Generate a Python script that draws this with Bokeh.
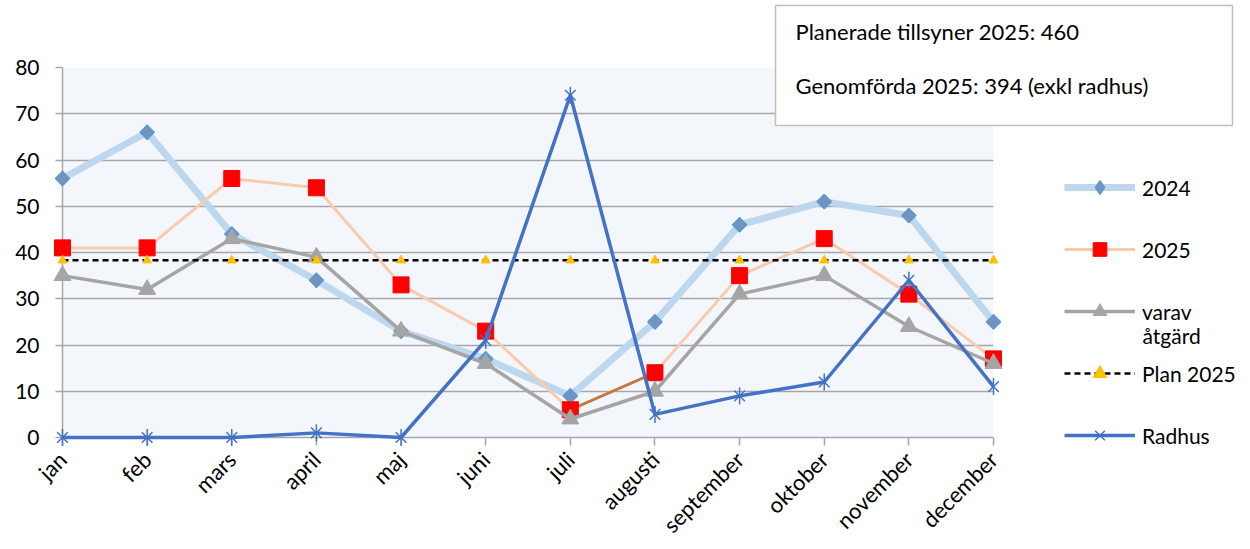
from math import pi
from bokeh.plotting import figure
from bokeh.models import Range1d, FixedTicker, Legend, LegendItem
from bokeh.core.properties import value
from bokeh.embed import file_html
from bokeh.resources import INLINE

# ---- data ----
months = ["jan", "feb", "mars", "april", "maj", "juni", "juli", "augusti",
          "september", "oktober", "november", "december"]
y2024 = [56, 66, 44, 34, 23, 17, 9, 25, 46, 51, 48, 25]
y2025 = [41, 41, 56, 54, 33, 23, 6, 14, 35, 43, 31, 17]
varav = [35, 32, 43, 39, 23, 16, 4, 10, 31, 35, 24, 16]
plan2025 = [38.3, 38.3, 38.3, 38.3, 38.3, 38.3, 38.3, 38.3, 38.3, 38.3, 38.3, 38.3]
radhus = [0, 0, 0, 1, 0, 21, 74, 5, 9, 12, 34, 11]
y_ticks = [0, 10, 20, 30, 40, 50, 60, 70, 80]
info_lines = ["Planerade tillsyner 2025: 460", "Genomförda 2025: 394 (exkl radhus)"]
series_names = ["2024", "2025", "varav", "åtgärd", "Plan 2025", "Radhus"]

FONT = "Lato"
GRID = "#A6A6A6"
x = list(range(len(months)))

# layout (page pixels)
FL, FT, FW, FH = 62, 67, 931, 370
W, H = 1242, 541
XMAX = len(months) - 1
YMAX = y_ticks[-1]


def dx(px):
    return (px - FL) / FW * XMAX


def dy(py):
    return (FT + FH - py) / FH * YMAX


p = figure(width=W, height=H, output_backend="svg", toolbar_location=None,
           x_range=Range1d(0, XMAX), y_range=Range1d(y_ticks[0], YMAX),
           frame_width=FW, frame_height=FH,
           min_border_left=FL, min_border_right=W - FL - FW, min_border_top=FT,
           min_border_bottom=H - FT - FH)
p.background_fill_color = "#F3F7FC"
p.border_fill_color = "white"
p.outline_line_color = None

# axes
p.xaxis.ticker = FixedTicker(ticks=x)
p.xaxis.major_label_overrides = {i: m for i, m in enumerate(months)}
p.xaxis.major_label_orientation = pi / 4
p.xaxis.major_label_text_font = FONT
p.xaxis.major_label_text_font_size = "22px"
p.xaxis.major_label_text_color = "black"
p.xaxis.major_tick_out = 8
p.xaxis.major_tick_in = 0
p.xaxis.minor_tick_line_color = None
p.xaxis.axis_line_color = GRID
p.xaxis.axis_line_width = 1.5
p.xaxis.major_tick_line_color = GRID
p.xaxis.major_tick_line_width = 1.5
p.xaxis.major_label_standoff = 10

p.yaxis.ticker = FixedTicker(ticks=y_ticks)
p.yaxis.major_label_text_font = FONT
p.yaxis.major_label_text_font_size = "21px"
p.yaxis.major_label_text_color = "black"
p.yaxis.major_tick_out = 7
p.yaxis.major_tick_in = 0
p.yaxis.minor_tick_line_color = None
p.yaxis.axis_line_color = GRID
p.yaxis.axis_line_width = 1.5
p.yaxis.major_tick_line_color = GRID
p.yaxis.major_tick_line_width = 1.5
p.yaxis.major_label_standoff = 16

p.xgrid.grid_line_color = None
p.ygrid.ticker = FixedTicker(ticks=y_ticks)
p.ygrid.grid_line_color = GRID
p.ygrid.grid_line_width = 1.5

LV = "annotation"

# 2024
l24 = p.line(x, y2024, line_color="#BDD7EE", line_width=7, line_join="round", level=LV)
m24 = p.scatter(x, y2024, marker="diamond", size=14, fill_color="#7393BA",
                line_color="#5B9BD5", line_width=1.5, level=LV)
p.scatter(x, y2024, marker="square", size=10, angle=pi / 4, fill_color="#7393BA",
          line_color="#5B9BD5", line_width=1.5, level=LV)
# 2025
l25 = p.line(x, y2025, line_color="#F8CBAD", line_width=3, level=LV)
p.line(x[6:8], y2025[6:8], line_color="#C5773F", line_width=3, level=LV)
m25 = p.scatter(x, y2025, marker="square", size=16, fill_color="#FF0000",
                line_color="#FF0000", level=LV)
# varav åtgärd
lv = p.line(x, varav, line_color="#A5A5A5", line_width=3.5, level=LV)
mv = p.scatter(x, varav, marker="triangle", size=17, fill_color="#A5A5A5",
               line_color="#A5A5A5", level=LV)
# plan
lp = p.line(x, plan2025, line_color="black", line_width=2.5, line_dash="6 4", level=LV)
mp = p.scatter(x, plan2025, marker="triangle", size=9, fill_color="#FFC000",
               line_color="#FFC000", level=LV)
# radhus
lr = p.line(x, radhus, line_color="#4472C4", line_width=3.5, level=LV)
mr1 = p.scatter(x, radhus, marker="x", size=15, line_color="#4472C4", line_width=1.5, level=LV)
mr2 = p.scatter(x, radhus, marker="dash", size=17, angle=pi / 2, line_color="#4472C4",
                line_width=1.5, level=LV)

legend = Legend(items=[
    LegendItem(label=series_names[0], renderers=[l24, m24]),
    LegendItem(label=series_names[1], renderers=[l25, m25]),
    LegendItem(label=series_names[2], renderers=[lv, mv]),
    LegendItem(label=series_names[4], renderers=[lp, mp]),
    LegendItem(label=series_names[5], renderers=[lr, mr1, mr2]),
], location=(1064 - FL - FW, -15), padding=0, margin=0, spacing=28, glyph_height=34,
    glyph_width=71, label_height=34, label_standoff=7, border_line_color=None,
    background_fill_alpha=0, label_text_font=FONT, label_text_font_size="21px",
    label_text_color="black")
p.add_layout(legend, "right")

# second line of the "varav åtgärd" legend label
p.text(x=[XMAX], y=[dy(335)], text=[series_names[3]], x_offset=1142 - FL - FW,
       text_font=value(FONT), text_font_size="21px", text_baseline="middle",
       text_color="black", level="overlay")

# info box
p.quad(left=[dx(775)], right=[dx(1232)], bottom=[dy(125)], top=[dy(5)],
       fill_color="white", line_color="#BFBFBF", line_width=1.5, level="overlay")
p.text(x=[dx(795), dx(795)], y=[YMAX, YMAX], text=info_lines, y_offset=[31 - FT, 85 - FT],
       text_font=value(FONT), text_font_size="22px", text_baseline="middle",
       text_color="black", level="overlay")

open("out.html", "w").write(file_html(p, INLINE))
